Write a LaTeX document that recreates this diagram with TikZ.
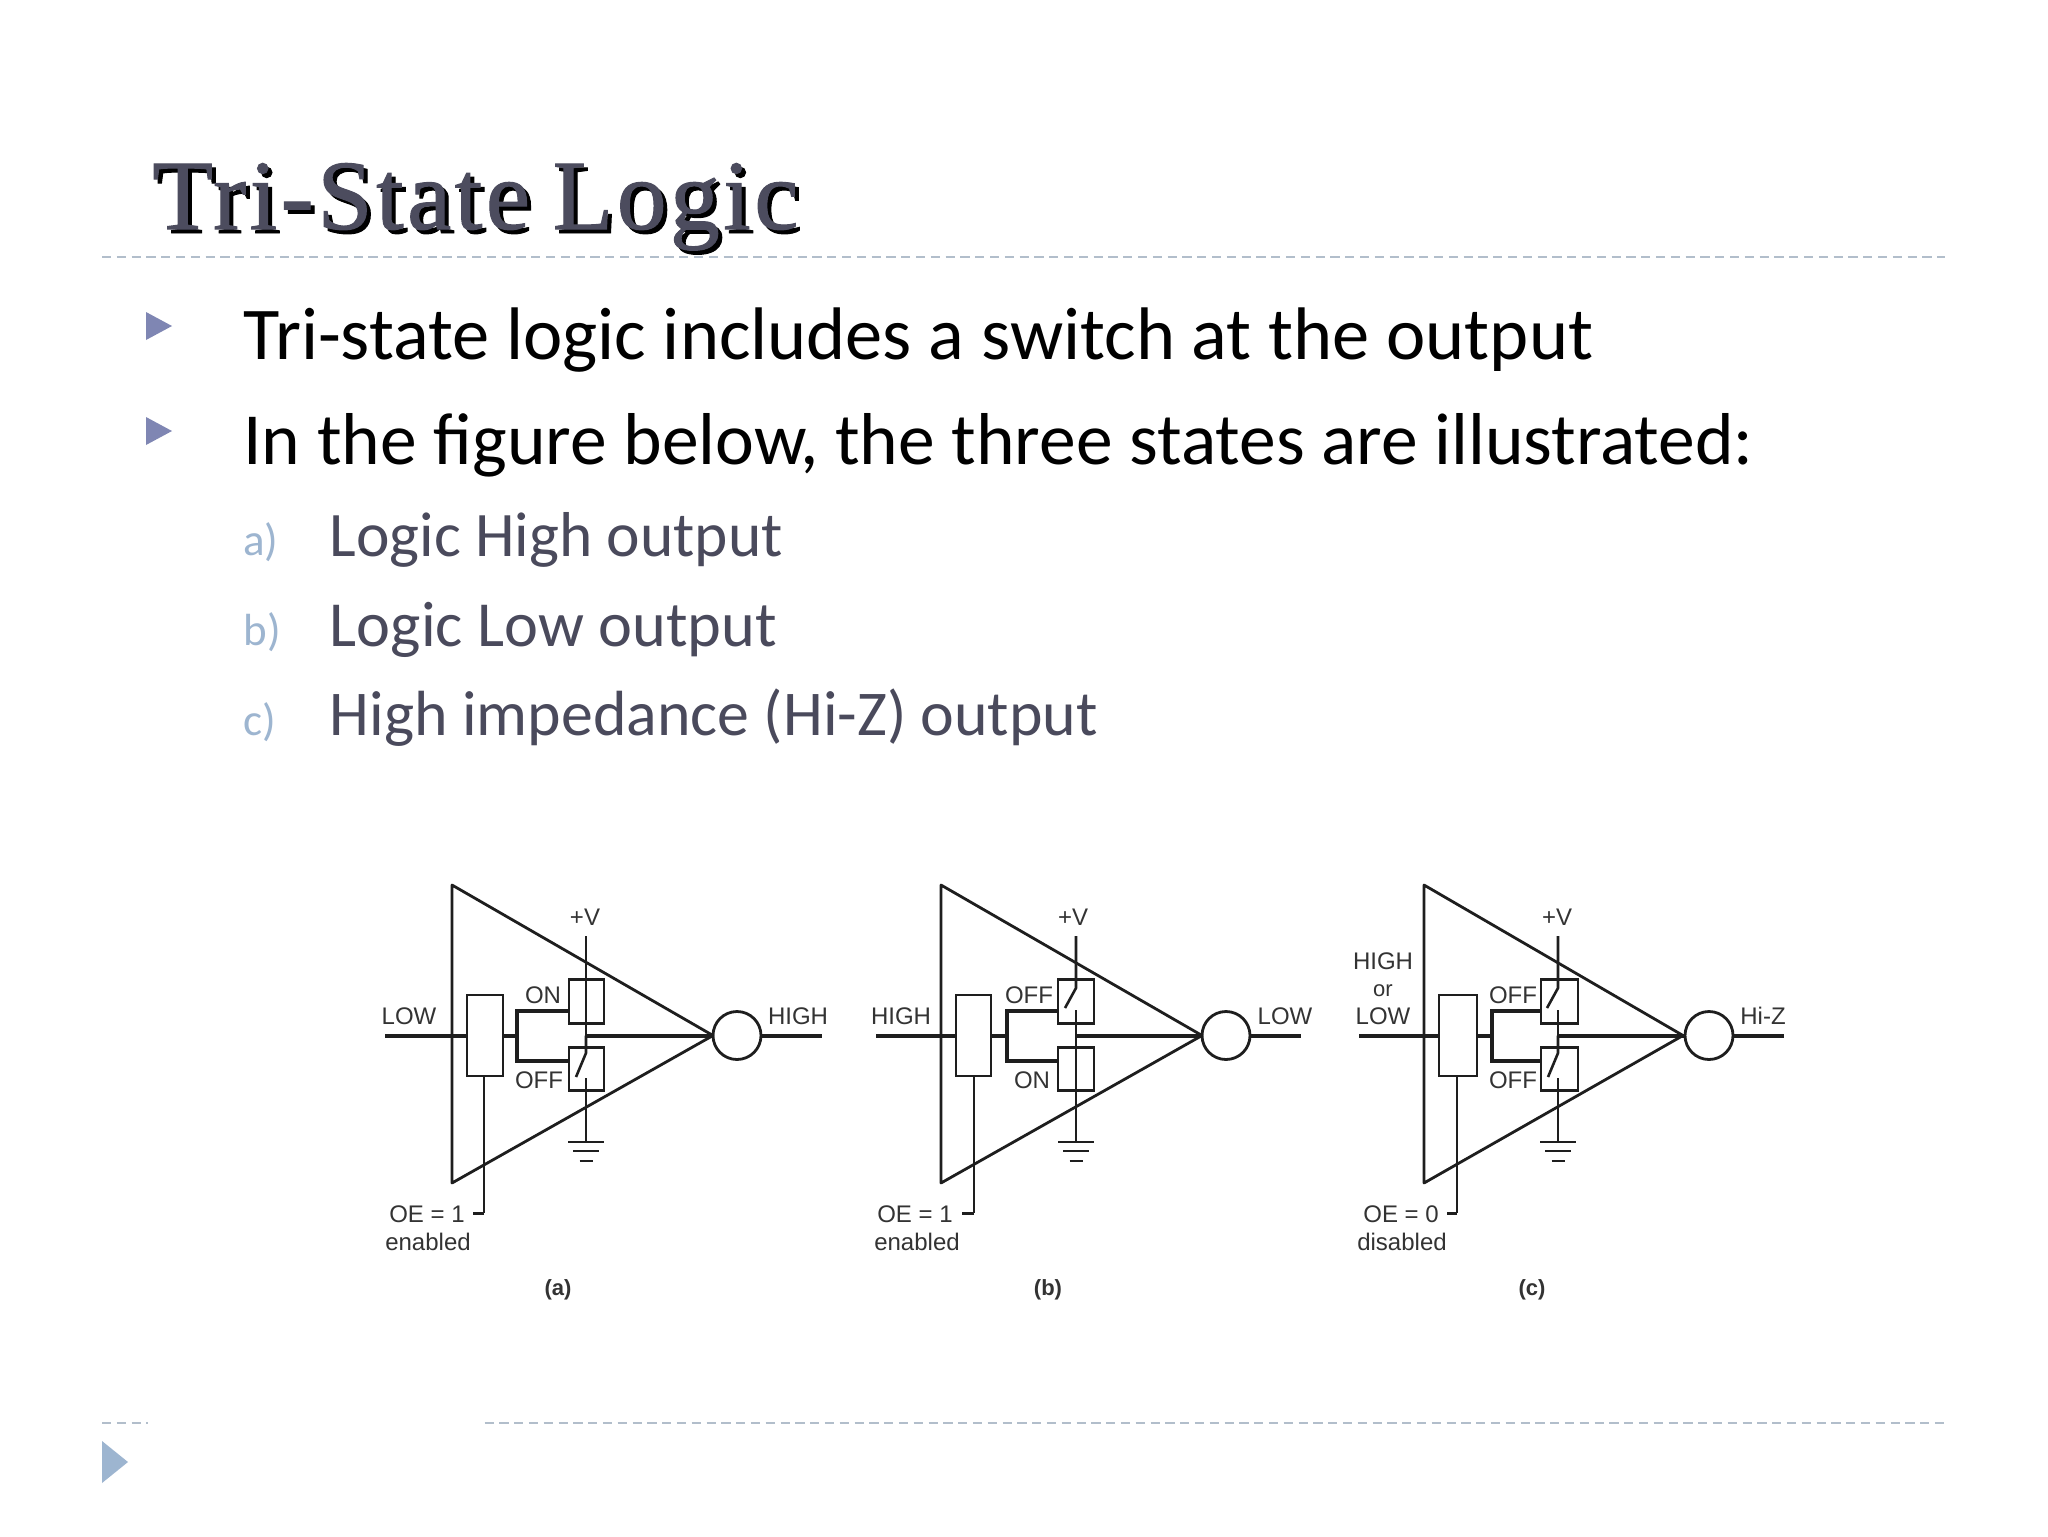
\documentclass[tikz,border=0pt]{standalone}
\usepackage{fontspec}
\setmainfont{Carlito}
\newfontfamily\labelfont{Liberation Sans}
\newfontfamily\titlefont[LetterSpace=3.5,WordSpace=0.8,FakeBold=1.0]{Liberation Serif}
\definecolor{inkwire}{HTML}{1E1E1E}
\definecolor{inklabel}{HTML}{333333}
\definecolor{bodysub}{HTML}{4A4A5C}
\definecolor{markerlight}{HTML}{9DB5D0}
\definecolor{markerbullet}{HTML}{7F86B3}
\definecolor{rulecol}{HTML}{B2BECB}
\definecolor{titlefill}{HTML}{4C4C5E}
\newcommand{\fitw}[2]{\resizebox{#1pt}{!}{\strut #2}}
\tikzset{
  wirethick/.style={draw=inkwire,line width=2pt},
  wirethin/.style={draw=inkwire,line width=1.3pt},
  outline/.style={draw=inkwire,line width=1.4pt,line join=round},
  boxnode/.style={draw=inkwire,line width=1.4pt,fill=white,rectangle,inner sep=0pt,outer sep=0pt},
  swnode/.style={draw=inkwire,line width=1.4pt,rectangle,inner sep=0pt,outer sep=0pt,minimum height=21.75pt},
  lbl/.style={font=\labelfont\fontsize{12}{14}\selectfont,text=inklabel,anchor=base,inner sep=0pt},
  capt/.style={font=\labelfont\bfseries\fontsize{11}{12}\selectfont,text=inklabel,anchor=base,inner sep=0pt},
  bodytext/.style={anchor=base west,inner sep=0pt,text=black,font=\fontsize{34}{40}\selectfont},
  subtext/.style={anchor=base west,inner sep=0pt,text=bodysub,font=\fontsize{28}{34}\selectfont},
  sublabel/.style={anchor=base west,inner sep=0pt,text=markerlight,font=\fontsize{22.5}{28}\selectfont},
  bullet/.style={fill=markerbullet,draw=none},
  dashrule/.style={draw=rulecol,line width=0.9pt,dash pattern=on 4.6pt off 2.8pt},
}
% #1 id, #2 upper switch drawing, #3 lower switch drawing
\newcommand{\tristate}[3]{
  \draw[outline] (\xL,885) -- (\xTip,1035.5) -- (\xL,1183) -- cycle;
  \coordinate (#1-in) at (\xIn,1035.5);
  \coordinate (#1-out) at (\xOut,1035.5);
  \coordinate (#1-vtop) at (\xV,936);
  \coordinate (#1-vgnd) at (\xV,1142);
  \coordinate (#1-vmid) at (\xV,1035.5);
  \coordinate (#1-tip) at (\xTip,1035.5);
  \coordinate (#1-jn) at (\xJ,1035.5);
  \coordinate (#1-jt) at (\xJ,1011);
  \coordinate (#1-jb) at (\xJ,1061);
  \coordinate (#1-oe) at (\xOE,1213);
  \coordinate (#1-stub) at (\xStub,1213);
  \node[boxnode,minimum width={(\xBR-\xBL)*0.5pt},minimum height=40.5pt] (#1-buf) at ({(\xBL+\xBR)/2},1035.5) {};
  \node[swnode,minimum width={(\xSR-\xSL)*0.5pt}] (#1-up) at ({(\xSL+\xSR)/2},1001.5) {};
  \node[swnode,minimum width={(\xSR-\xSL)*0.5pt}] (#1-lo) at ({(\xSL+\xSR)/2},1069) {};
  \node[draw=inkwire,line width=1.4pt,circle,inner sep=0pt,outer sep=0pt,minimum size=24pt] (#1-c) at (\xC,1035.5) {};
  \draw[wirethick] (#1-in) -- (#1-buf.west);
  \draw[wirethick] (#1-buf.east) -- (#1-jn);
  \draw[wirethick,line join=miter] (#1-up.west |- #1-jt) -- (#1-jt) -- (#1-jb) -- (#1-lo.west |- #1-jb);
  \draw[wirethick] (#1-vmid) -- (#1-c.west);
  \draw[wirethick] (#1-c.east) -- (#1-out);
  #2{#1}
  #3{#1}
  \draw[wirethin] (#1-buf.south -| #1-oe) -- (#1-oe);
  \draw[wirethin,line width=1.5pt] (#1-oe) -- (#1-stub);
  \draw[outline] (\xV-18,1142) -- (\xV+18,1142);
  \draw[outline] (\xV-13,1151) -- (\xV+13,1151);
  \draw[outline] (\xV-6.5,1161) -- (\xV+6.5,1161);
}
\newcommand{\upclosed}[1]{\draw[wirethin] (#1-vtop) -- (#1-vmid);}
\newcommand{\upopen}[1]{\draw[wirethin] (#1-vtop) -- (\xV,988) -- (\xV-11,1008);\draw[wirethin] (\xV,1010) -- (#1-vmid);}
\newcommand{\lowclosed}[1]{\draw[wirethin] (#1-vmid) -- (#1-vgnd);}
\newcommand{\lowopen}[1]{\draw[wirethin] (#1-vmid) -- (\xV,1053) -- (\xV-10,1077);\draw[wirethin] (\xV,1078) -- (#1-vgnd);}
\begin{document}
\begin{tikzpicture}[x=0.5pt,y=-0.5pt]
\useasboundingbox (0,0) rectangle (2048,1536);
\fill[white] (0,0) rectangle (2048,1536);
% title
\node[anchor=base west,inner sep=0pt,text=black,font=\titlefont\fontsize{48}{54}\selectfont] (titleshadow) at (156,233) {\resizebox{323pt}{!}{Tri-State Logic}};
\node[anchor=base west,inner sep=0pt,text=titlefill,font=\titlefont\fontsize{48}{54}\selectfont] (title) at (152,229) {\resizebox{323pt}{!}{Tri-State Logic}};
\coordinate (rt1) at (102,257); \coordinate (rt2) at (1945,257);
\draw[dashrule] (rt1) -- (rt2);
% bullets
\fill[bullet] (146,312) -- (172,326) -- (146,340) -- cycle;
\fill[bullet] (146,417) -- (172,431) -- (146,445) -- cycle;
\node[bodytext] (b1) at (243,359) {\fitw{675}{Tri-state logic includes a switch at the output}};
\node[bodytext] (b2) at (243,464) {\fitw{755}{In the figure below, the three states are illustrated:}};
\node[sublabel] (la) at (243,555) {a)};
\node[sublabel] (lb) at (243,645) {b)};
\node[sublabel] (lc) at (243,735) {c)};
\node[subtext] (s1) at (329.5,556) {\fitw{226.5}{Logic High output}};
\node[subtext] (s2) at (329.5,646) {\fitw{223.5}{Logic Low output}};
\node[subtext] (s3) at (329.5,735) {\fitw{384}{High impedance (Hi-Z) output}};
% panel a
\def\xIn{385}\def\xL{452}\def\xBL{467}\def\xBR{503}\def\xJ{517}\def\xSL{569}\def\xSR{604}\def\xV{586}\def\xTip{713}\def\xC{737}\def\xOut{822}\def\xOE{484}\def\xStub{473}
\tristate{pa}{\upclosed}{\lowopen}
\node[lbl] (pa-v) at (585,925) {+V};
\node[lbl] (pa-i) at (409,1024) {LOW};
\node[lbl] (pa-u) at (543,1003) {ON};
\node[lbl] (pa-d) at (539,1088) {OFF};
\node[lbl] (pa-o) at (798,1024) {HIGH};
\node[lbl] (pa-e) at (427,1222) {OE = 1};
\node[lbl] (pa-s) at (428,1250) {enabled};
\node[capt] (pa-cap) at (558,1295) {(a)};
% panel b
\def\xIn{876}\def\xL{941}\def\xBL{956}\def\xBR{991}\def\xJ{1007}\def\xSL{1058}\def\xSR{1094}\def\xV{1076}\def\xTip{1202}\def\xC{1226}\def\xOut{1301}\def\xOE{974}\def\xStub{962}
\tristate{pb}{\upopen}{\lowclosed}
\node[lbl] (pb-v) at (1073,925) {+V};
\node[lbl] (pb-i) at (901,1024) {HIGH};
\node[lbl] (pb-u) at (1029,1003) {OFF};
\node[lbl] (pb-d) at (1032,1088) {ON};
\node[lbl] (pb-o) at (1285,1024) {LOW};
\node[lbl] (pb-e) at (915,1222) {OE = 1};
\node[lbl] (pb-s) at (917,1250) {enabled};
\node[capt] (pb-cap) at (1048,1295) {(b)};
% panel c
\def\xIn{1359}\def\xL{1424}\def\xBL{1439}\def\xBR{1477}\def\xJ{1492}\def\xSL{1541}\def\xSR{1578}\def\xV{1558}\def\xTip{1683}\def\xC{1709}\def\xOut{1784}\def\xOE{1457}\def\xStub{1447}
\tristate{pc}{\upopen}{\lowopen}
\node[lbl] (pc-v) at (1557,925) {+V};
\node[lbl] (pc-h) at (1383,969) {HIGH};
\node[lbl,font=\labelfont\fontsize{11}{13}\selectfont] (pc-r) at (1383,996) {or};
\node[lbl] (pc-i) at (1383,1024) {LOW};
\node[lbl] (pc-u) at (1513,1003) {OFF};
\node[lbl] (pc-d) at (1513,1088) {OFF};
\node[lbl] (pc-o) at (1763,1024) {Hi-Z};
\node[lbl] (pc-e) at (1401,1222) {OE = 0};
\node[lbl] (pc-s) at (1402,1250) {disabled};
\node[capt] (pc-cap) at (1532,1295) {(c)};
% footer
\coordinate (rb1) at (102,1423); \coordinate (rb2) at (148,1423);
\coordinate (rb3) at (484.5,1423); \coordinate (rb4) at (1945,1423);
\draw[dashrule] (rb1) -- (rb2);
\draw[dashrule] (rb3) -- (rb4);
\fill[markerlight] (102,1441) -- (128,1462) -- (102,1483) -- cycle;
\end{tikzpicture}
\end{document}
